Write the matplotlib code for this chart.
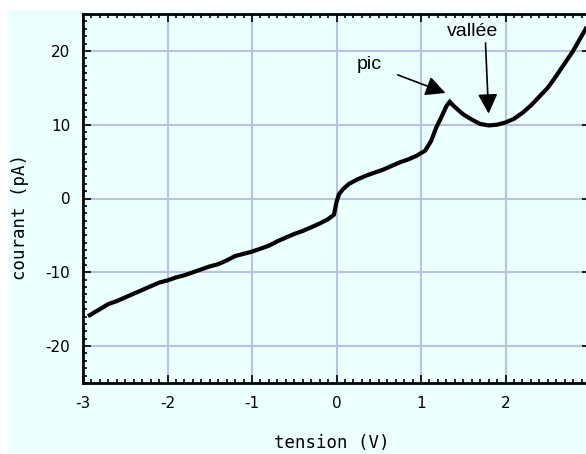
import matplotlib
matplotlib.use('Agg')
import matplotlib.pyplot as plt
from matplotlib.ticker import MultipleLocator
from matplotlib.patches import Rectangle

plt.rcParams['axes.unicode_minus'] = False

# courbe I(V)
tension = [-2.92, -2.8, -2.7, -2.6, -2.5, -2.4, -2.3, -2.2, -2.1, -2.0, -1.9, -1.8,
           -1.7, -1.6, -1.5, -1.4, -1.3, -1.2, -1.1, -1.0, -0.9, -0.8, -0.7, -0.6,
           -0.5, -0.4, -0.3, -0.2, -0.1, -0.03, 0.0, 0.03, 0.08, 0.15, 0.25, 0.35,
           0.45, 0.55, 0.65, 0.75, 0.85, 0.95, 1.05, 1.12, 1.18, 1.24, 1.3, 1.34,
           1.4, 1.5, 1.6, 1.7, 1.8, 1.9, 2.0, 2.1, 2.2, 2.3, 2.4, 2.5, 2.6, 2.7,
           2.8, 2.9, 2.95]
courant = [-15.8, -15.0, -14.3, -13.9, -13.4, -12.9, -12.4, -11.9, -11.4, -11.1, -10.7, -10.4,
           -10.0, -9.6, -9.2, -8.9, -8.4, -7.8, -7.5, -7.2, -6.8, -6.4, -5.8, -5.3,
           -4.8, -4.4, -3.9, -3.4, -2.8, -2.2, -0.5, 0.6, 1.3, 2.0, 2.6, 3.1,
           3.5, 3.9, 4.4, 4.9, 5.3, 5.8, 6.5, 7.8, 9.6, 11.0, 12.5, 13.1,
           12.4, 11.4, 10.7, 10.1, 9.9, 10.0, 10.3, 10.8, 11.6, 12.6, 13.8, 15.0, 16.6, 18.3,
           20.0, 22.0, 23.0]

fig = plt.figure(figsize=(5.86, 4.54), dpi=100)
fig.patch.set_facecolor('white')
fig.patches.append(Rectangle((8/586, 0), 1, 1 - 10/454, transform=fig.transFigure,
                             facecolor='#ebffff', edgecolor='none', zorder=-10))

ax = fig.add_axes([83/586, 1 - 383/454, 507/586, 369/454])
ax.set_facecolor('#ebffff')
ax.plot(tension, courant, color='black', lw=3, solid_joinstyle='miter')

ax.set_xlim(-3, 3)
ax.set_ylim(-25, 25)
ax.xaxis.set_major_locator(MultipleLocator(1))
ax.xaxis.set_minor_locator(MultipleLocator(0.1))
ax.yaxis.set_major_locator(MultipleLocator(10))
ax.yaxis.set_minor_locator(MultipleLocator(1))
ax.grid(True, which='major', color='#b9c3e0', lw=1.5)
ax.set_axisbelow(True)
ax.tick_params(which='both', direction='in', top=True, right=True, width=1.2, colors='black',
               labelsize=11)
ax.tick_params(which='major', length=6, pad=9)
ax.tick_params(which='minor', length=3)
for s in ax.spines.values():
    s.set_linewidth(2)

# titres des axes
fig.text(332/586, 1 - 443/454, 'tension (V)', family='DejaVu Sans Mono', fontsize=12.5,
         ha='center', va='center')
fig.text(20/586, 1 - 217/454, 'courant (pA)', family='DejaVu Sans Mono', fontsize=12.5,
         ha='center', va='center', rotation=90)

ax.annotate('pic', xy=(1.29, 14.3), xytext=(0.39, 18.2), fontsize=14,
            family='Liberation Sans', ha='center', va='center',
            arrowprops=dict(arrowstyle='-|>', mutation_scale=30, lw=1.2, color='black',
                            shrinkA=10, shrinkB=0))
ax.annotate('vallée', xy=(1.8, 11.5), xytext=(1.61, 22.6), fontsize=14,
            family='Liberation Sans', ha='center', va='center',
            arrowprops=dict(arrowstyle='-|>', mutation_scale=30, lw=1.2, color='black',
                            shrinkA=0, shrinkB=0, relpos=(0.75, 0)))

fig.savefig('out.png', dpi=100)
